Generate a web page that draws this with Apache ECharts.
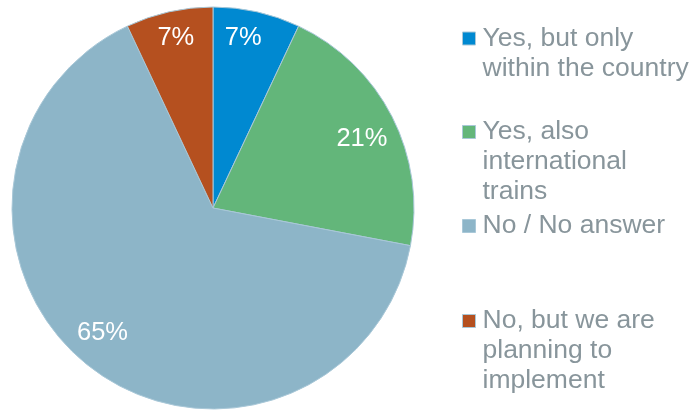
<!DOCTYPE html>
<html>
<head>
<meta charset="utf-8">
<style>
  html, body { margin: 0; padding: 0; background: #ffffff; }
  #chart { width: 694px; height: 412px; }
</style>
<script src="https://cdn.jsdelivr.net/npm/echarts@6/dist/echarts.min.js"></script>
</head>
<body>
<div id="chart"></div>
<script>
// Survey answers, share of respondents (%)
const categories = [
  'Yes, but only within the country',
  'Yes, also international trains',
  'No / No answer',
  'No, but we are planning to implement'
];
const shares = [7, 21, 65, 7];
// How each legend label wraps onto lines
const legendLines = [
  ['Yes, but only', 'within the country'],
  ['Yes, also', 'international', 'trains'],
  ['No / No answer'],
  ['No, but we are', 'planning to', 'implement']
];

const sliceColors = ['#0089d1', '#63b67a', '#8db5c8', '#b5501f'];
// small nudges of the percentage labels inside their slices [dx, dy]
const labelNudge = [[-7, -4], [-3, 8], [-6, -10], [0, -4]];

const FONT = '"Liberation Sans", Arial, sans-serif';
const LINE_H = 30;
// Vertical centre of each legend marker (first text line)
const legendMarkerY = [38.5, 132, 226, 321];

const pieData = categories.map((name, i) => ({
  name: name,
  value: shares[i],
  itemStyle: { color: sliceColors[i] }
}));
const labelRingData = categories.map((name, i) => ({
  name: name,
  value: shares[i],
  label: { offset: labelNudge[i] }
}));

// One legend per entry so each can sit at its own height.
// Blank lines are put in front so the marker lines up with the first text line.
const legends = categories.map((name, i) => {
  const n = legendLines[i].length;
  const text = '\n'.repeat(n - 1) + legendLines[i].join('\n');
  return {
    data: [name],
    orient: 'vertical',
    left: 462,
    top: legendMarkerY[i] - (2 * n - 1) * LINE_H / 2,
    padding: 0,
    itemWidth: 13,
    itemHeight: 13,
    itemGap: 0,
    icon: 'rect',
    selectedMode: false,
    itemStyle: { borderColor: '#a9c8d8', borderWidth: 1 },
    formatter: () => text,
    textStyle: {
      fontFamily: FONT,
      fontSize: 26.5,
      lineHeight: LINE_H,
      color: '#88959b',
      padding: [0, 0, 0, 2]
    }
  };
});

const chart = echarts.init(document.getElementById('chart'), null, { renderer: 'canvas' });
chart.setOption({
  animation: false,
  backgroundColor: '#ffffff',
  legend: legends,
  series: [
    {
      // the pie itself
      type: 'pie',
      center: [213, 208],
      radius: [0, 201],
      startAngle: 90,
      clockwise: true,
      data: pieData,
      itemStyle: { borderColor: '#a9c8d8', borderWidth: 1 },
      label: { show: false },
      labelLine: { show: false },
      emphasis: { disabled: true }
    },
    {
      // transparent ring carrying the percentage labels near the rim
      type: 'pie',
      center: [213, 208],
      radius: [134, 201],
      startAngle: 90,
      clockwise: true,
      silent: true,
      data: labelRingData,
      itemStyle: { color: 'rgba(0,0,0,0)', borderWidth: 0 },
      label: {
        show: true,
        position: 'inside',
        formatter: p => p.value + '%',
        fontFamily: FONT,
        fontSize: 25.5,
        color: '#ffffff'
      },
      labelLine: { show: false },
      emphasis: { disabled: true }
    }
  ]
});
</script>
</body>
</html>
